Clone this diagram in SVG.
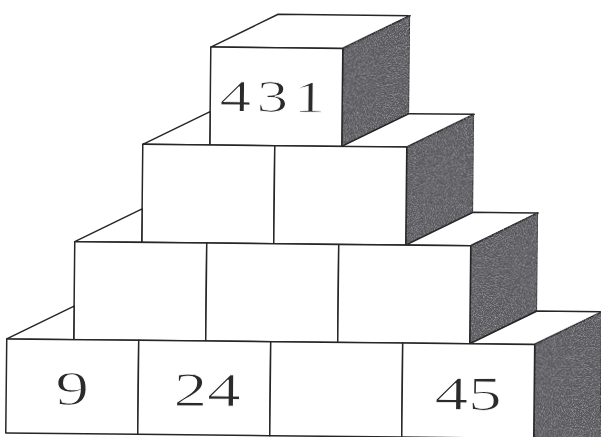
<svg xmlns="http://www.w3.org/2000/svg" width="601" height="437" viewBox="0 0 601 437">
  <style>
    .face{fill:#ffffff;stroke:#262626;stroke-width:1.5;stroke-linejoin:round}
    .shade{fill:#58585b;stroke:#262626;stroke-width:1.5;stroke-linejoin:round;filter:url(#grain)}
    .num{font-family:"Liberation Serif","Times New Roman",serif;fill:#2b2b2b;stroke:#ffffff;stroke-width:0.9;text-anchor:middle}
  </style>
  <defs>
    <filter id="grain" x="0%" y="0%" width="100%" height="100%" color-interpolation-filters="sRGB">
      <feTurbulence type="fractalNoise" baseFrequency="0.9" numOctaves="2" seed="7" result="t"/>
      <feColorMatrix in="t" type="matrix" values="0 0 0 0 0.78  0 0 0 0 0.78  0 0 0 0 0.84  1.7 0 0 0 -0.74" result="s"/>
      <feComposite in="s" in2="SourceGraphic" operator="in" result="c"/>
      <feMerge><feMergeNode in="SourceGraphic"/><feMergeNode in="c"/></feMerge>
    </filter>
  </defs>
  <rect width="601" height="437" fill="#ffffff"/>
  <g transform="rotate(0.6 300 220)">
    <g id="cube-top">
      <polygon class="face" points="209,48 276,14.5 408,14.5 341,48"/>
      <polygon class="shade" points="341,48 408,14.5 408,112.5 341,146"/>
      <rect class="face" x="209" y="48" width="132" height="98"/>
      <text class="num" transform="translate(274 112) scale(1.4 1)" font-size="45" letter-spacing="4">431</text>
    </g>
    <g id="cube-r2-1">
      <polygon class="face" points="142,146 209,112.5 209,146"/>
      <rect class="face" x="142" y="146" width="132" height="98"/>
    </g>
    <g id="cube-r2-2">
      <polygon class="face" points="341,146 408,112.5 473,112.5 406,146"/>
      <polygon class="shade" points="406,146 473,112.5 473,210.5 406,244"/>
      <rect class="face" x="274" y="146" width="132" height="98"/>
    </g>
    <g id="cube-r3-1">
      <polygon class="face" points="75,244 142,210.5 142,244"/>
      <rect class="face" x="75" y="244" width="132" height="98"/>
    </g>
    <g id="cube-r3-2">
      <rect class="face" x="207" y="244" width="132" height="98"/>
    </g>
    <g id="cube-r3-3">
      <polygon class="face" points="406,244 473,210.5 538,210.5 471,244"/>
      <polygon class="shade" points="471,244 538,210.5 538,308.5 471,342"/>
      <rect class="face" x="339" y="244" width="132" height="98"/>
    </g>
    <g id="cube-r4-1">
      <polygon class="face" points="8,342 75,308.5 75,342"/>
      <rect class="face" x="8" y="342" width="132" height="94"/>
      <text class="num" transform="translate(74 407) scale(1.4 1)" font-size="48">9</text>
    </g>
    <g id="cube-r4-2">
      <rect class="face" x="140" y="342" width="132" height="94"/>
      <text class="num" transform="translate(209 407) scale(1.4 1)" font-size="48">24</text>
    </g>
    <g id="cube-r4-3">
      <rect class="face" x="272" y="342" width="132" height="94"/>
    </g>
    <g id="cube-r4-4">
      <polygon class="face" points="471,342 538,308.5 605,308.5 536,342"/>
      <polygon class="shade" points="536,342 603,308.5 603,445 536,445"/>
      <rect class="face" x="404" y="342" width="132" height="94"/>
      <text class="num" transform="translate(470 408) scale(1.4 1)" font-size="48">45</text>
    </g>
  </g>
  <g id="connectors"/>
</svg>
